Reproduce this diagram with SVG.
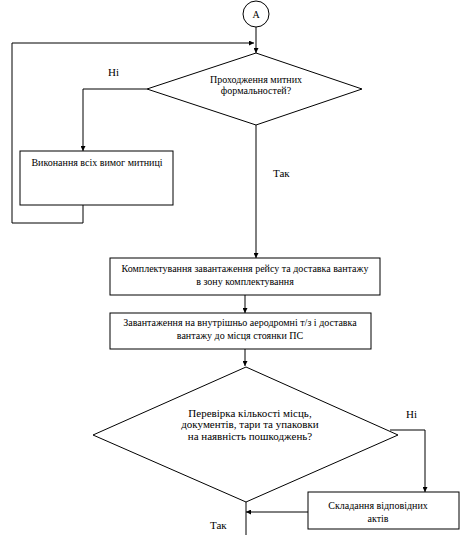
<svg xmlns="http://www.w3.org/2000/svg" width="467" height="535" viewBox="0 0 467 535">
<style>
.s{fill:#fff;stroke:#000;stroke-width:1}
.l{fill:none;stroke:#000;stroke-width:1}
text{font-family:'Liberation Serif','DejaVu Serif',serif;fill:#000}
.t{font-size:10px;text-anchor:middle}
.b{font-size:11px}
.c{text-anchor:middle}
</style>
<defs>
<marker id="ar" viewBox="0 0 10 10" refX="10" refY="5" markerWidth="5" markerHeight="5" orient="auto" markerUnits="userSpaceOnUse"><path d="M0,0L10,5L0,10z" fill="#000"/></marker>
</defs>
<rect width="467" height="535" fill="#fff"/>
<g id="connectors">
<path class="l" d="M256,27V53" marker-end="url(#ar)"/>
<path class="l" d="M83,205V223H12V43H254" marker-end="url(#ar)"/>
<path class="l" d="M147,89H83V151" marker-end="url(#ar)"/>
<path class="l" d="M256,125V258" marker-end="url(#ar)"/>
<path class="l" d="M245,295V313" marker-end="url(#ar)"/>
<path class="l" d="M245,349V366" marker-end="url(#ar)"/>
<path class="l" d="M390,430H425V492" marker-end="url(#ar)"/>
<path class="l" d="M308,512H246" marker-end="url(#ar)"/>
<path class="l" d="M246,502V535"/>
<text class="b" x="108" y="76" font-family="Liberation Serif, serif">Ні</text>
<text class="b" x="273" y="177" font-family="Liberation Serif, serif">Так</text>
<text class="b" x="406" y="418" font-family="Liberation Serif, serif">Ні</text>
<text class="b" x="210" y="529" font-family="Liberation Serif, serif">Так</text>
</g>
<g id="start">
<circle class="s" cx="256" cy="14" r="13"/>
<text class="t" x="256" y="18" font-family="Liberation Serif, serif">A</text>
</g>
<g id="decision1">
<polygon class="s" points="256,53 362,89 256,125 147,89"/>
<text class="t" x="256" y="83" font-family="Liberation Serif, serif">Проходження митних</text>
<text class="t" x="256" y="94" font-family="Liberation Serif, serif">формальностей?</text>
</g>
<g id="customs">
<rect class="s" x="20" y="151" width="153" height="54"/>
<text class="t" x="97" y="166" font-family="Liberation Serif, serif">Виконання всіх вимог митниці</text>
</g>
<g id="assemble">
<rect class="s" x="110" y="258" width="270" height="37"/>
<text class="t" x="245" y="272" font-family="Liberation Serif, serif">Комплектування завантаження рейсу та доставка вантажу</text>
<text class="t" x="245" y="285" font-family="Liberation Serif, serif">в зону комплектування</text>
</g>
<g id="load">
<rect class="s" x="110" y="313" width="261" height="36"/>
<text class="t" x="240" y="326" font-family="Liberation Serif, serif">Завантаження на внутрішньо аеродромні т/з і доставка</text>
<text class="t" x="240" y="339" font-family="Liberation Serif, serif">вантажу до місця стоянки ПС</text>
</g>
<g id="decision2">
<polygon class="s" points="246,367 398,435 246,502 93,435"/>
<text class="b c" x="250" y="417" font-family="Liberation Serif, serif">Перевірка кількості місць,</text>
<text class="b c" x="250" y="428" font-family="Liberation Serif, serif">документів, тари та упаковки</text>
<text class="b c" x="250" y="440" font-family="Liberation Serif, serif">на наявність пошкоджень?</text>
</g>
<g id="acts">
<rect class="s" x="308" y="492" width="151" height="37"/>
<text class="t" x="378" y="509" font-family="Liberation Serif, serif">Складання відповідних</text>
<text class="t" x="378" y="522" font-family="Liberation Serif, serif">актів</text>
</g>
</svg>
